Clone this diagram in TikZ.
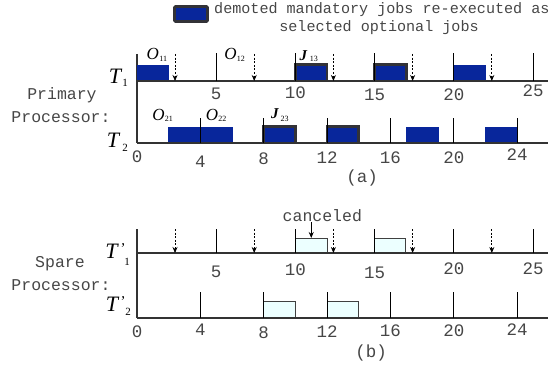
\documentclass[tikz,border=0pt]{standalone}
\usepackage{fontspec}
\setmainfont{Liberation Serif}
\newfontfamily\monof{Liberation Mono}
\usetikzlibrary{arrows.meta}
\definecolor{jobblue}{RGB}{8,38,155}
\definecolor{bordgray}{RGB}{50,50,55}
\definecolor{sparecyan}{RGB}{236,255,255}
\definecolor{txtgray}{RGB}{70,70,70}
\tikzset{
  axisline/.style={line width=1.4pt, draw=black!80},
  tickline/.style={line width=1pt, draw=black},
  jobbox/.style={fill=jobblue, draw=jobblue, line width=0.6pt},
  demotedbox/.style={fill=jobblue, draw=bordgray, line width=2.6pt},
  sparebox/.style={fill=sparecyan, draw=black!75, line width=0.9pt},
  dlarrow/.style={line width=0.8pt, dash pattern=on 2pt off 1.6pt, -{Stealth[length=6pt,width=5pt]}},
  numtxt/.style={font=\monof\fontsize{17.5}{17.5}\selectfont, text=txtgray, inner sep=0pt},
  labtxt/.style={font=\monof\fontsize{16.5}{16.5}\selectfont, text=txtgray, inner sep=0pt},
  headtxt/.style={font=\monof\fontsize{15.1}{15.1}\selectfont, text=txtgray, inner sep=0pt},
  tbig/.style={font=\fontsize{22}{22}\selectfont\itshape, inner sep=0pt},
  tsub/.style={font=\fontsize{11}{11}\selectfont, inner sep=0pt},
  tprime/.style={font=\fontsize{15}{15}\selectfont, inner sep=0pt},
  jlab/.style={font=\fontsize{17}{17}\selectfont\itshape, inner sep=0pt},
  jblab/.style={font=\fontsize{15}{15}\selectfont\bfseries\itshape, inner sep=0pt},
  jsub/.style={font=\fontsize{8}{8}\selectfont, inner sep=0pt},
}
\begin{document}
\begin{tikzpicture}[x=1pt,y=1pt]
\useasboundingbox (0,0) rectangle (557,-369);

% legend
\draw[demotedbox, rounded corners=1pt] (174.5,-6.5) rectangle (207.5,-21.5);
\node[headtxt, anchor=west] (leg1) at (214,-10) {demoted mandatory jobs re-executed as};
\node[headtxt] (leg2) at (379,-28) {selected optional jobs};

% processor labels
\node[labtxt] (prim) at (62,-95) {Primary};
\node[labtxt] (procA) at (61,-117) {Processor:};
\node[labtxt] (spare) at (60,-264) {Spare};
\node[labtxt] (procB) at (61,-285) {Processor:};

% vertical axes
\draw[axisline] (137,-54) -- (137,-143);
\draw[axisline] (137,-229) -- (137,-318);

% ---------- T1 ----------
\begin{scope}[shift={(137pt,-81pt)}, x=15.84pt, y=1pt]
  \draw[jobbox] (0,0) rectangle (2,16);
  \draw[demotedbox] (10,0) rectangle (12,16.5);
  \draw[demotedbox] (15,0) rectangle (17,16.5);
  \draw[jobbox] (20,0) rectangle (22,16);
  \draw[axisline] (0,0) -- (25.95,0);
  \foreach \t in {5,10,15,20,25} \draw[tickline] (\t,0) -- (\t,28);
  \foreach \t [count=\i] in {2.4,7.4,12.4,17.4,22.4} {
    \coordinate (a1s\i) at (\t,27); \coordinate (a1e\i) at (\t,0);
    \draw[dlarrow] (a1s\i) -- (a1e\i);}
  \node[jlab] (o11) at (1.0,27) {O}; \node[jsub, anchor=west] (o11s) at (1.4,22.5) {11};
  \node[jlab] (o12) at (5.9,27) {O}; \node[jsub, anchor=west] (o12s) at (6.3,22.5) {12};
  \node[jblab] (j13) at (10.5,25.5) {J}; \node[jsub, anchor=west] (j13s) at (10.9,22.5) {13};
  \node[numtxt] (n1a) at (5,-13) {5};
  \node[numtxt] (n1b) at (10,-12) {10};
  \node[numtxt] (n1c) at (15,-14) {15};
  \node[numtxt] (n1d) at (20,-14) {20};
  \node[numtxt] (n1e) at (25,-10) {25};
\end{scope}
\node[tbig] (T1) at (115,-76.5) {T};
\node[tsub] (T1s) at (125,-83) {1};

% ---------- T2 ----------
\begin{scope}[shift={(137pt,-143pt)}, x=15.84pt, y=1pt]
  \draw[jobbox] (2,0) rectangle (4,16);
  \draw[jobbox] (4,0) rectangle (6,16);
  \draw[demotedbox] (8,0) rectangle (10,16.5);
  \draw[demotedbox] (12,0) rectangle (14,16.5);
  \draw[jobbox] (17,0) rectangle (19,16);
  \draw[jobbox] (22,0) rectangle (24,16);
  \draw[axisline] (0,0) -- (25.95,0);
  \foreach \t in {4,8,12,16,20,24} \draw[tickline] (\t,0) -- (\t,25);
  \node[jlab] (o21) at (1.36,28) {O}; \node[jsub, anchor=west] (o21s) at (1.75,24) {21};
  \node[jlab] (o22) at (4.73,28) {O}; \node[jsub, anchor=west] (o22s) at (5.12,24) {22};
  \node[jblab] (j23) at (8.7,29) {J}; \node[jsub, anchor=west] (j23s) at (9.05,24.5) {23};
  \node[numtxt] (n2a) at (0,-14) {0};
  \node[numtxt] (n2b) at (4,-19) {4};
  \node[numtxt] (n2c) at (8,-16) {8};
  \node[numtxt] (n2d) at (12,-15) {12};
  \node[numtxt] (n2e) at (16,-15) {16};
  \node[numtxt] (n2f) at (20,-15) {20};
  \node[numtxt] (n2g) at (24,-12) {24};
\end{scope}
\node[tbig] (T2) at (113,-140) {T};
\node[tsub] (T2s) at (125,-148) {2};
\node[numtxt] (capa) at (362,-178) {(a)};

% ---------- T'1 ----------
\begin{scope}[shift={(137pt,-253pt)}, x=15.84pt, y=1pt]
  \draw[sparebox] (10,0) rectangle (12,15);
  \draw[sparebox] (15,0) rectangle (16.95,15);
  \draw[axisline] (0,0) -- (25.95,0);
  \foreach \t in {5,10,15,20,25} \draw[tickline] (\t,0) -- (\t,24);
  \foreach \t [count=\i] in {2.4,7.4,12.4,17.4,22.4} {
    \coordinate (a3s\i) at (\t,24); \coordinate (a3e\i) at (\t,0);
    \draw[dlarrow] (a3s\i) -- (a3e\i);}
  \node[labtxt] (canc) at (11.7,37) {canceled};
  \coordinate (cantip) at (11,15);
  \coordinate (cantail) at (11,31);
  \draw[line width=0.9pt, -{Stealth[length=6pt,width=5pt]}] (cantail) -- (cantip);
  \node[numtxt] (n3a) at (5,-19) {5};
  \node[numtxt] (n3b) at (10,-17) {10};
  \node[numtxt] (n3c) at (15,-20) {15};
  \node[numtxt] (n3d) at (20,-16) {20};
  \node[numtxt] (n3e) at (25,-16) {25};
\end{scope}
\node[tbig] (T3) at (111.5,-251) {T};
\node[tprime] (T3p) at (123,-249) {'};
\node[tsub] (T3s) at (127,-262) {1};

% ---------- T'2 ----------
\begin{scope}[shift={(137pt,-318pt)}, x=15.84pt, y=1pt]
  \draw[sparebox] (8,0) rectangle (10,17);
  \draw[sparebox] (12,0) rectangle (14,17);
  \draw[axisline] (0,0) -- (25.95,0);
  \foreach \t in {4,8,12,16,20,24} \draw[tickline] (\t,0) -- (\t,26);
  \node[numtxt] (n4a) at (0,-14) {0};
  \node[numtxt] (n4b) at (4,-12) {4};
  \node[numtxt] (n4c) at (8,-15) {8};
  \node[numtxt] (n4d) at (12,-14) {12};
  \node[numtxt] (n4e) at (16,-13) {16};
  \node[numtxt] (n4f) at (20,-13) {20};
  \node[numtxt] (n4g) at (24,-12) {24};
\end{scope}
\node[tbig] (T4) at (112,-304) {T};
\node[tprime] (T4p) at (123,-302) {'};
\node[tsub] (T4s) at (128,-312) {2};
\node[numtxt] (capb) at (371,-353) {(b)};
\end{tikzpicture}
\end{document}
